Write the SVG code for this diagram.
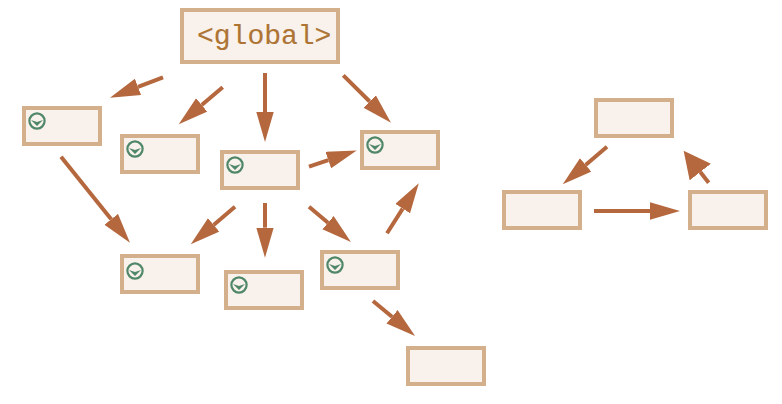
<svg xmlns="http://www.w3.org/2000/svg" width="782" height="404" viewBox="0 0 782 404">
<style>
.box{fill:#f9f2ec;stroke:#d3b08b;stroke-width:4}
.c{fill:none;stroke:#b5673e;stroke-width:4;marker-end:url(#ah)}
.lbl{font-family:"Liberation Mono","DejaVu Sans Mono",monospace;font-size:28px;fill:#ad7434;stroke:#ad7434;stroke-width:0.15}
</style>
<defs>
<marker id="ah" markerUnits="userSpaceOnUse" markerWidth="32" markerHeight="18" refX="0" refY="8.7" orient="auto"><path d="M0,0L30,8.7L0,17.4z" fill="#b5673e"/></marker>
<marker id="ah2" markerUnits="userSpaceOnUse" markerWidth="28" markerHeight="28" refX="0" refY="13.5" orient="auto"><path d="M0,0L27,13.5L0,27z" fill="#b5673e"/></marker>
<g id="ic"><circle r="7.6" fill="none" stroke="#4f8768" stroke-width="2.2"/><path d="M-6,-1L0,1L6,-1L0,5z" fill="#4f8768"/></g>
</defs>
<g id="connectors">
<path class="c" d="M163,77.3L138,86.9"/>
<path class="c" d="M222.7,87.3L201.7,105"/>
<path class="c" d="M265,73V112"/>
<path class="c" d="M343.3,75.3L369.7,101.5"/>
<path class="c" d="M309,166.7L328.3,160.1"/>
<path class="c" d="M61,156.7L111.2,219.3"/>
<path class="c" d="M235,206.7L213.6,224.9"/>
<path class="c" d="M265,203V227.7"/>
<path class="c" d="M309,206.7L328,222.7"/>
<path class="c" d="M387,233.3L402.7,208.6"/>
<path class="c" d="M373,301L392,316.8"/>
<path class="c" d="M607,146.7L585.6,164.9"/>
<path class="c" d="M594,211H650"/>
<path class="c" style="marker-end:url(#ah2)" d="M708.7,182.7L700.3,172"/>
</g>
<g id="global"><rect class="box" x="182" y="10" width="156" height="52"/><text class="lbl" x="197" y="44">&lt;global&gt;</text></g>
<g id="n1"><rect class="box" x="24" y="108" width="76" height="36"/><use href="#ic" x="37" y="121"/></g>
<g id="n2"><rect class="box" x="122" y="136" width="76" height="36"/><use href="#ic" x="135" y="149"/></g>
<g id="n3"><rect class="box" x="222" y="152" width="76" height="36"/><use href="#ic" x="235" y="165"/></g>
<g id="n4"><rect class="box" x="362" y="132" width="76" height="36"/><use href="#ic" x="375" y="145"/></g>
<g id="n5"><rect class="box" x="122" y="256" width="76" height="36"/><use href="#ic" x="135" y="271"/></g>
<g id="n6"><rect class="box" x="226" y="272" width="76" height="36"/><use href="#ic" x="239" y="285"/></g>
<g id="n7"><rect class="box" x="322" y="252" width="76" height="36"/><use href="#ic" x="335" y="265"/></g>
<g id="n8"><rect class="box" x="408" y="348" width="76" height="36"/></g>
<g id="r1"><rect class="box" x="596" y="100" width="76" height="36"/></g>
<g id="r2"><rect class="box" x="504" y="192" width="76" height="36"/></g>
<g id="r3"><rect class="box" x="690" y="192" width="76" height="36"/></g>
</svg>
